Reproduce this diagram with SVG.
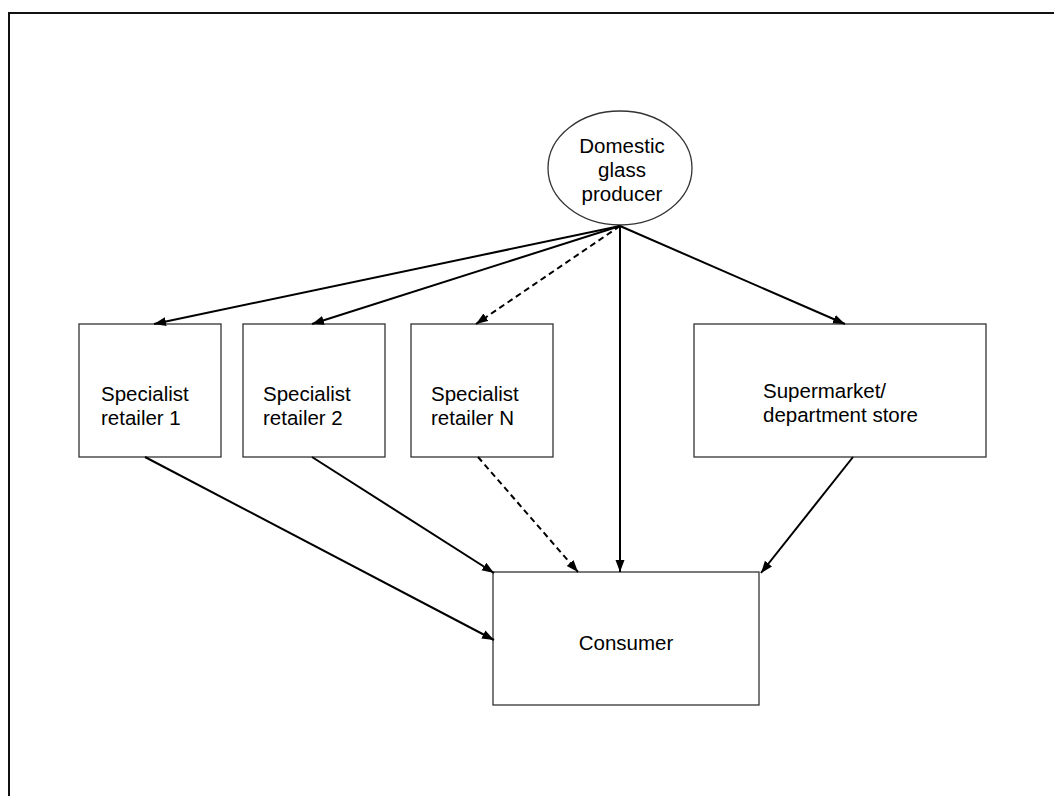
<svg xmlns="http://www.w3.org/2000/svg" width="1054" height="796" viewBox="0 0 1054 796">
<style>
.box{fill:#fff;stroke:#333;stroke-width:1.3}
.lbl{font-family:"Liberation Sans",Arial,sans-serif;font-size:20.5px;fill:#000}
.c{stroke:#000;stroke-width:2;fill:none}
.d{stroke-dasharray:6 4}
</style>
<defs>
<marker id="ah" markerUnits="userSpaceOnUse" markerWidth="13" markerHeight="10" refX="12" refY="4.5" orient="auto">
<path d="M0,0 L12,4.5 L0,9 z" fill="#000"/>
</marker>
</defs>
<rect x="0" y="0" width="1054" height="796" fill="#fff"/>
<path d="M9,796 V13 H1054" fill="none" stroke="#111" stroke-width="2"/>
<g id="producer">
<ellipse class="box" cx="620" cy="168" rx="72" ry="57"/>
<text class="lbl" x="622" y="153" text-anchor="middle">Domestic</text>
<text class="lbl" x="622" y="177" text-anchor="middle">glass</text>
<text class="lbl" x="622" y="201" text-anchor="middle">producer</text>
</g>
<g id="retailer1">
<rect class="box" x="79" y="324" width="142" height="133"/>
<text class="lbl" x="101" y="401">Specialist</text>
<text class="lbl" x="101" y="425">retailer 1</text>
</g>
<g id="retailer2">
<rect class="box" x="243" y="324" width="142" height="133"/>
<text class="lbl" x="263" y="401">Specialist</text>
<text class="lbl" x="263" y="425">retailer 2</text>
</g>
<g id="retailerN">
<rect class="box" x="411" y="324" width="142" height="133"/>
<text class="lbl" x="431" y="401">Specialist</text>
<text class="lbl" x="431" y="425">retailer N</text>
</g>
<g id="supermarket">
<rect class="box" x="694" y="324" width="292" height="133"/>
<text class="lbl" x="763" y="398">Supermarket/</text>
<text class="lbl" x="763" y="422">department store</text>
</g>
<g id="consumer">
<rect class="box" x="493" y="572" width="266" height="133"/>
<text class="lbl" x="626" y="650" text-anchor="middle">Consumer</text>
</g>
<g id="connectors">
<line class="c" x1="620" y1="226" x2="154" y2="324" marker-end="url(#ah)"/>
<line class="c" x1="620" y1="226" x2="312" y2="324" marker-end="url(#ah)"/>
<line class="c d" x1="620" y1="226" x2="476" y2="324" marker-end="url(#ah)"/>
<line class="c" x1="620" y1="226" x2="620" y2="572" marker-end="url(#ah)"/>
<line class="c" x1="620" y1="226" x2="845" y2="324" marker-end="url(#ah)"/>
<line class="c" x1="145" y1="457" x2="494" y2="640" marker-end="url(#ah)"/>
<line class="c" x1="312" y1="457" x2="494" y2="573" marker-end="url(#ah)"/>
<line class="c d" x1="478" y1="457" x2="578" y2="572" marker-end="url(#ah)"/>
<line class="c" x1="853" y1="457" x2="761" y2="573" marker-end="url(#ah)"/>
</g>
</svg>
